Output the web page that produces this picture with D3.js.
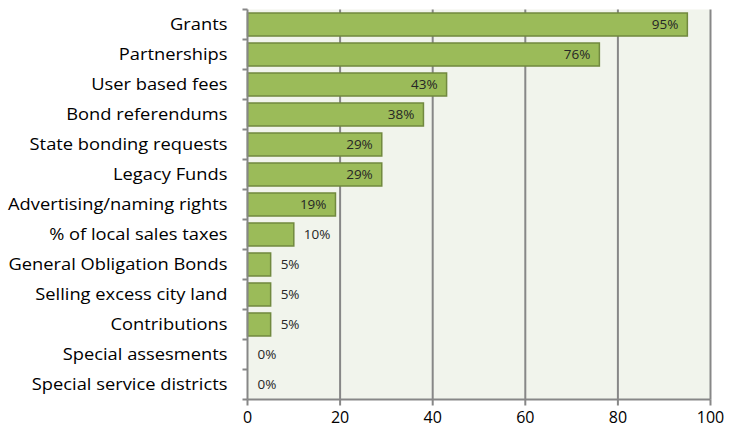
<!DOCTYPE html>
<html><head><meta charset="utf-8">
<script src="https://cdn.jsdelivr.net/npm/d3@7"></script>
<style>body{margin:0;background:#fff}svg{display:block}</style>
</head><body><svg id="c" width="729" height="428"></svg>
<script>
const categories = ["Grants","Partnerships","User based fees","Bond referendums","State bonding requests","Legacy Funds","Advertising/naming rights","% of local sales taxes","General Obligation Bonds","Selling excess city land","Contributions","Special assesments","Special service districts"];
const values = [95,76,43,38,29,29,19,10,5,5,5,0,0];
const xTicks = [0,20,40,60,80,100];

const svg = d3.select("#c");
const m = {l:247.5, r:710.5, t:9.5, b:399.5};
const x = d3.scaleLinear().domain([0,100]).range([m.l, m.r]);
const y = d3.scaleBand().domain(categories).range([m.t, m.b]).paddingInner(0.233).paddingOuter(0.117);
const band = d3.scaleBand().domain(categories).range([m.t, m.b]);
const font = "'Open Sans', sans-serif";
const grey = "#878787";

svg.append("rect").attr("x", m.l).attr("y", m.t).attr("width", m.r-m.l).attr("height", m.b-m.t).attr("fill", "#f1f4ec");

svg.append("g").selectAll("line").data(xTicks.filter(d=>d>0)).join("line")
  .attr("x1", d=>x(d)).attr("x2", d=>x(d)).attr("y1", m.t).attr("y2", m.b)
  .attr("stroke", grey).attr("stroke-width", 2);

svg.append("g").selectAll("rect").data(values).join("rect")
  .attr("x", x(0)).attr("y", (d,i)=>y(categories[i]))
  .attr("width", d=>x(d)-x(0)).attr("height", y.bandwidth())
  .attr("fill", "#9bbb59").attr("stroke", "#71893f").attr("stroke-width", 1.5)
  .attr("display", d=>d>0?null:"none");

svg.append("g").selectAll("text").data(values).join("text")
  .attr("transform", (d,i)=>`translate(${d>=19 ? x(d)-9 : x(d)+10},${band(categories[i])+band.bandwidth()/2}) scale(1.08,1)`)
  .attr("dy", "0.35em")
  .attr("text-anchor", d=> d>=19 ? "end" : "start")
  .attr("font-family", font).attr("font-size", 12.5).attr("fill", "#262626")
  .text(d=>d+"%");

// y axis
const ya = svg.append("g").attr("transform", `translate(${m.l},0)`);
ya.append("line").attr("x1",0).attr("x2",0).attr("y1",m.t).attr("y2",m.b).attr("stroke",grey).attr("stroke-width",2);
const yTickPos = categories.map(c=>band(c)).concat([m.b]);
ya.selectAll("line.t").data(yTickPos).join("line").attr("class","t")
  .attr("x1",-5).attr("x2",0).attr("y1",d=>d).attr("y2",d=>d).attr("stroke",grey).attr("stroke-width",2);
ya.selectAll("text").data(categories).join("text")
  .attr("transform", d=>`translate(-20,${band(d)+band.bandwidth()/2}) scale(1.145,1)`)
  .attr("dy","0.35em")
  .attr("text-anchor","end").attr("font-family",font).attr("font-size",16).attr("fill","#000")
  .text(d=>d);

// x axis
const xa = svg.append("g").attr("transform", `translate(0,${m.b})`);
xa.append("line").attr("x1",m.l).attr("x2",m.r).attr("stroke",grey).attr("stroke-width",2);
xa.selectAll("line.t").data(xTicks).join("line").attr("class","t")
  .attr("x1",d=>x(d)).attr("x2",d=>x(d)).attr("y1",0).attr("y2",6).attr("stroke",grey).attr("stroke-width",2);
xa.selectAll("text").data(xTicks).join("text")
  .attr("x",d=>x(d)).attr("y",23.5).attr("text-anchor","middle")
  .attr("font-family",font).attr("font-size",16).attr("fill","#000")
  .text(d=>d);
</script></body></html>
